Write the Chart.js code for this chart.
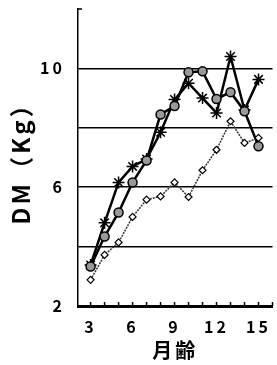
<!DOCTYPE html>
<html>
<head>
<meta charset="utf-8">
<script src="https://cdn.jsdelivr.net/npm/chart.js"></script>
<style>
  html, body { margin: 0; padding: 0; background: #fff; overflow: hidden; }
  #wrap { width: 280px; height: 365px; }
</style>
</head>
<body>
<div id="wrap"><canvas id="grafico"></canvas></div>
<script>
const meses = [3, 4, 5, 6, 7, 8, 9, 10, 11, 12, 13, 14, 15];
const serieEstrela = [3.38, 4.8, 6.16, 6.7, 6.95, 7.85, 8.95, 9.5, 9.0, 8.5, 10.4, 8.6, 9.63];
const serieCirculo = [3.33, 4.34, 5.15, 6.16, 6.9, 8.45, 8.73, 9.87, 9.9, 8.97, 9.2, 8.56, 7.38];
const serieLosango = [2.88, 3.72, 4.14, 5.0, 5.58, 5.69, 6.16, 5.67, 6.57, 7.26, 8.22, 7.49, 7.66];
const ticksX = [3, 6, 9, 12, 15];
const ticksY = [2, 6, 10];

const pontos = (vals) => meses.map((m, i) => ({ x: m, y: vals[i] }));
const fonte = 'Noto Sans CJK JP';

// small inward tick marks on the x axis, one per month
const marcasX = {
  id: 'marcasX',
  beforeDraw(chart) { chart.ctx.letterSpacing = '3px'; },
  afterDraw(chart) {
    const { ctx, scales: { x, y } } = chart;
    ctx.letterSpacing = '0px';
    const base = y.getPixelForValue(2);
    ctx.save();
    ctx.strokeStyle = '#000';
    ctx.lineWidth = 1.5;
    for (let m = 3; m <= 16; m++) {
      const px = x.getPixelForValue(m);
      ctx.beginPath();
      ctx.moveTo(px, base);
      ctx.lineTo(px, base - 4);
      ctx.stroke();
    }
    const top = y.getPixelForValue(12);
    ctx.beginPath();
    ctx.moveTo(x.left, top);
    ctx.lineTo(x.left + 4, top);
    ctx.stroke();
    ctx.restore();
  }
};

const ctx = document.getElementById('grafico').getContext('2d');

const grafico = new Chart(ctx, {
  type: 'line',
  data: {
    datasets: [{
      data: pontos(serieLosango),
      borderColor: '#333',
      borderWidth: 1.5,
      borderDash: [2, 1],
      pointStyle: 'rectRot',
      pointRadius: 3.5,
      pointBackgroundColor: '#fff',
      pointBorderColor: '#000',
      pointBorderWidth: 1.2,
      tension: 0
    }, {
      data: pontos(serieCirculo),
      borderColor: '#000',
      borderWidth: 2.5,
      pointStyle: 'circle',
      pointRadius: 4.5,
      pointBackgroundColor: '#999',
      pointBorderColor: '#000',
      pointBorderWidth: 1.5,
      tension: 0
    }, {
      data: pontos(serieEstrela),
      borderColor: '#000',
      borderWidth: 2.5,
      pointStyle: 'star',
      pointRadius: 6,
      pointBorderColor: '#000',
      pointBorderWidth: 1.5,
      tension: 0
    }]
  },
  options: {
    responsive: true,
    maintainAspectRatio: false,
    animation: false,
    layout: { padding: { top: 9, right: 0, bottom: 0, left: 0 } },
    plugins: { legend: { display: false }, tooltip: { enabled: false } },
    scales: {
      x: {
        type: 'linear',
        min: 2.1,
        max: 16,
        afterBuildTicks: (s) => { s.ticks = ticksX.map(v => ({ value: v })); },
        afterFit: (s) => { s.height = 59; s.paddingLeft = 0; s.paddingRight = 0; },
        grid: { display: false, drawTicks: false },
        border: { color: '#000', width: 3 },
        ticks: {
          padding: 11,
          color: '#000',
          font: { family: fonte, size: 16, weight: 'bold' },
          maxRotation: 0,
          autoSkip: false
        },
        title: {
          display: true,
          text: '月齢',
          color: '#000',
          font: { family: fonte, size: 20, weight: 'bold' },
          padding: { top: 0, bottom: 3 }
        }
      },
      y: {
        min: 2,
        max: 12,
        afterBuildTicks: (s) => { s.ticks = [2, 4, 6, 8, 10, 12].map(v => ({ value: v })); },
        afterFit: (s) => { s.width = 78; s.paddingTop = 0; s.paddingBottom = 0; },
        grid: {
          drawTicks: false,
          lineWidth: 1.5,
          color: (c) => (c.tick && (c.tick.value === 2 || c.tick.value === 12)) ? 'rgba(0,0,0,0)' : '#000'
        },
        border: { color: '#000', width: 1.5 },
        ticks: {
          padding: 13,
          color: '#000',
          font: { family: fonte, size: 16, weight: 'bold' },
          callback: (v) => ticksY.includes(v) ? String(v) : ''
        },
        title: {
          display: true,
          text: 'DM（Kg）',
          color: '#000',
          font: { family: fonte, size: 24, weight: 'bold' },
          padding: { top: 6, bottom: 0 }
        }
      }
    }
  },
  plugins: [marcasX]
});
</script>
</body>
</html>
